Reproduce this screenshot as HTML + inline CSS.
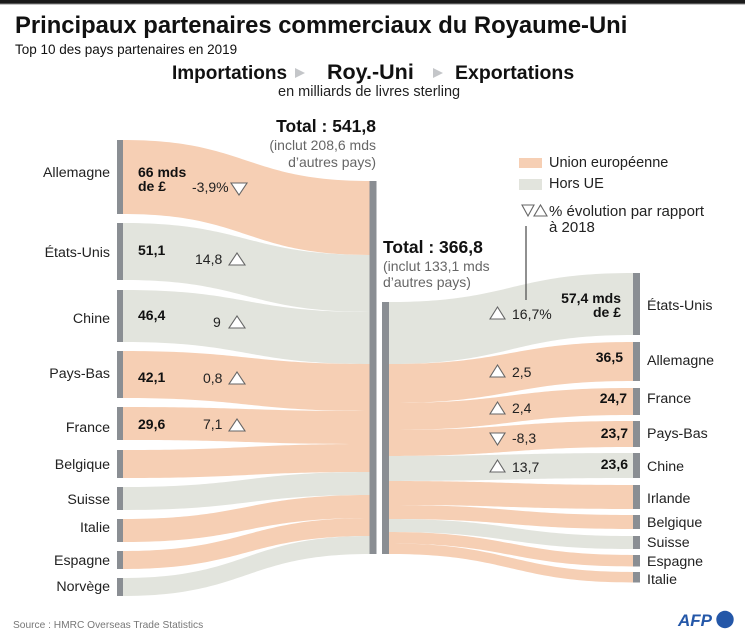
<!DOCTYPE html>
<html><head><meta charset="utf-8"><style>
html,body{margin:0;padding:0;background:#fff;}
svg{display:block;}
text{font-family:"Liberation Sans",sans-serif;}
</style></head><body>
<svg width="745" height="642" viewBox="0 0 745 642" xmlns="http://www.w3.org/2000/svg">
<rect x="0" y="0" width="745" height="642" fill="#fff"/>
<rect x="0" y="0" width="745" height="3.5" fill="#1a1a1a"/>
<rect x="0" y="3.5" width="745" height="1" fill="#888"/>

<!-- Titles -->
<text x="15" y="33" font-size="23.8" font-weight="bold" fill="#111">Principaux partenaires commerciaux du Royaume-Uni</text>
<text x="15" y="54" font-size="13.5" fill="#111">Top 10 des pays partenaires en 2019</text>
<text x="172" y="79" font-size="19" font-weight="bold" fill="#111">Importations</text>
<polygon points="295,68 295,78 305,73" fill="#c4c6c9"/>
<text x="327" y="79" font-size="21.5" font-weight="bold" fill="#111">Roy.-Uni</text>
<polygon points="433,68 433,78 443,73" fill="#c4c6c9"/>
<text x="455" y="79" font-size="19.5" font-weight="bold" fill="#111">Exportations</text>
<text x="278" y="96" font-size="14.5" fill="#222">en milliards de livres sterling</text>

<!-- Import flows -->
<g>
<path d="M123,140 C246.5,140 246.5,181 370,181 L370,255 C246.5,255 246.5,214 123,214 Z" fill="#f6cfb4"/>
<path d="M123,223 C246.5,223 246.5,255 370,255 L370,312 C246.5,312 246.5,280 123,280 Z" fill="#e2e4dd"/>
<path d="M123,290 C246.5,290 246.5,312 370,312 L370,364 C246.5,364 246.5,342 123,342 Z" fill="#e2e4dd"/>
<path d="M123,351 C246.5,351 246.5,364 370,364 L370,411 C246.5,411 246.5,398 123,398 Z" fill="#f6cfb4"/>
<path d="M123,407 C246.5,407 246.5,411 370,411 L370,444 C246.5,444 246.5,440 123,440 Z" fill="#f6cfb4"/>
<path d="M123,450 C246.5,450 246.5,444 370,444 L370,472 C246.5,472 246.5,478 123,478 Z" fill="#f6cfb4"/>
<path d="M123,487 C246.5,487 246.5,472 370,472 L370,495 C246.5,495 246.5,510 123,510 Z" fill="#e2e4dd"/>
<path d="M123,519 C246.5,519 246.5,495 370,495 L370,518 C246.5,518 246.5,542 123,542 Z" fill="#f6cfb4"/>
<path d="M123,551 C246.5,551 246.5,518 370,518 L370,536 C246.5,536 246.5,569 123,569 Z" fill="#f6cfb4"/>
<path d="M123,578 C246.5,578 246.5,536 370,536 L370,554 C246.5,554 246.5,596 123,596 Z" fill="#e2e4dd"/>
</g>

<!-- Export flows -->
<g>
<path d="M389,302 C511,302 511,273 633,273 L633,335 C511,335 511,364 389,364 Z" fill="#e2e4dd"/>
<path d="M389,364 C511,364 511,342 633,342 L633,381 C511,381 511,403 389,403 Z" fill="#f6cfb4"/>
<path d="M389,403 C511,403 511,388 633,388 L633,415 C511,415 511,430 389,430 Z" fill="#f6cfb4"/>
<path d="M389,430 C511,430 511,421 633,421 L633,447 C511,447 511,456 389,456 Z" fill="#f6cfb4"/>
<path d="M389,456 C511,456 511,453 633,453 L633,478 C511,478 511,481 389,481 Z" fill="#e2e4dd"/>
<path d="M389,481 C511,481 511,485 633,485 L633,509 C511,509 511,505 389,505 Z" fill="#f6cfb4"/>
<path d="M389,505 C511,505 511,515 633,515 L633,529 C511,529 511,519 389,519 Z" fill="#f6cfb4"/>
<path d="M389,519 C511,519 511,536 633,536 L633,549 C511,549 511,532 389,532 Z" fill="#e2e4dd"/>
<path d="M389,532 C511,532 511,555 633,555 L633,566.5 C511,566.5 511,543.5 389,543.5 Z" fill="#f6cfb4"/>
<path d="M389,543.5 C511,543.5 511,572 633,572 L633,582.5 C511,582.5 511,554 389,554 Z" fill="#f6cfb4"/>
</g>

<!-- Bars -->
<g fill="#8a8e93">
<rect x="117" y="140" width="6" height="74"/>
<rect x="117" y="223" width="6" height="57"/>
<rect x="117" y="290" width="6" height="52"/>
<rect x="117" y="351" width="6" height="47"/>
<rect x="117" y="407" width="6" height="33"/>
<rect x="117" y="450" width="6" height="28"/>
<rect x="117" y="487" width="6" height="23"/>
<rect x="117" y="519" width="6" height="23"/>
<rect x="117" y="551" width="6" height="18"/>
<rect x="117" y="578" width="6" height="18"/>
<rect x="369.5" y="181" width="7" height="373"/>
<rect x="382" y="302" width="7" height="252"/>
<rect x="633" y="273" width="7" height="62"/>
<rect x="633" y="342" width="7" height="39"/>
<rect x="633" y="388" width="7" height="27"/>
<rect x="633" y="421" width="7" height="26"/>
<rect x="633" y="453" width="7" height="25"/>
<rect x="633" y="485" width="7" height="24"/>
<rect x="633" y="515" width="7" height="14"/>
<rect x="633" y="536" width="7" height="13"/>
<rect x="633" y="555" width="7" height="11.5"/>
<rect x="633" y="572" width="7" height="10.5"/>
</g>

<!-- Left labels -->
<g font-size="14.2" fill="#222" text-anchor="end">
<text x="110" y="177">Allemagne</text>
<text x="110" y="257">États-Unis</text>
<text x="110" y="323">Chine</text>
<text x="110" y="378">Pays-Bas</text>
<text x="110" y="432">France</text>
<text x="110" y="469">Belgique</text>
<text x="110" y="504">Suisse</text>
<text x="110" y="532">Italie</text>
<text x="110" y="565">Espagne</text>
<text x="110" y="591">Norvège</text>
</g>

<!-- Left values -->
<g font-size="14" font-weight="bold" fill="#111">
<text x="138" y="177">66 mds</text>
<text x="138" y="191">de £</text>
<text x="138" y="255">51,1</text>
<text x="138" y="320">46,4</text>
<text x="138" y="382">42,1</text>
<text x="138" y="429">29,6</text>
</g>
<g font-size="14" fill="#222">
<text x="192" y="192">-3,9%</text>
<text x="195" y="264">14,8</text>
<text x="213" y="327">9</text>
<text x="203" y="383">0,8</text>
<text x="203" y="429">7,1</text>
</g>
<g fill="#fff" stroke="#666" stroke-width="1.1">
<polygon points="231,183 247,183 239,195"/>
<polygon points="229,265 245,265 237,253"/>
<polygon points="229,328 245,328 237,316"/>
<polygon points="229,384 245,384 237,372"/>
<polygon points="229,431 245,431 237,419"/>
<polygon points="490,319 505,319 497.5,307"/>
<polygon points="490,377 505,377 497.5,365"/>
<polygon points="490,414 505,414 497.5,402"/>
<polygon points="490,433 505,433 497.5,445"/>
<polygon points="490,472 505,472 497.5,460"/>
<polygon points="522,205 534,205 528,216"/>
<polygon points="534,216 547,216 540.5,205"/>
</g>

<!-- Totals -->
<text x="376" y="132" font-size="17.5" font-weight="bold" fill="#111" text-anchor="end">Total : 541,8</text>
<text x="376" y="150" font-size="14" fill="#666" text-anchor="end">(inclut 208,6 mds</text>
<text x="376" y="167" font-size="14" fill="#666" text-anchor="end">d’autres pays)</text>
<text x="383" y="253" font-size="17.5" font-weight="bold" fill="#111">Total : 366,8</text>
<text x="383" y="271" font-size="14" fill="#666">(inclut 133,1 mds</text>
<text x="383" y="287" font-size="14" fill="#666">d’autres pays)</text>

<!-- Legend -->
<rect x="519" y="158" width="23" height="10" fill="#f6cfb4"/>
<rect x="519" y="179" width="23" height="11" fill="#e2e4dd"/>
<g font-size="14.5" fill="#222">
<text x="549" y="167">Union européenne</text>
<text x="549" y="188">Hors UE</text>
<text x="549" y="216" font-size="15">% évolution par rapport</text>
<text x="549" y="232" font-size="15">à 2018</text>
</g>
<line x1="526" y1="226" x2="526" y2="300" stroke="#555" stroke-width="1.3"/>

<!-- Right values -->
<g font-size="14" font-weight="bold" fill="#111" text-anchor="end">
<text x="621" y="303">57,4 mds</text>
<text x="621" y="317">de £</text>
<text x="623" y="362">36,5</text>
<text x="627" y="403">24,7</text>
<text x="628" y="438">23,7</text>
<text x="628" y="469">23,6</text>
</g>
<g font-size="14" fill="#222">
<text x="512" y="319">16,7%</text>
<text x="512" y="377">2,5</text>
<text x="512" y="413">2,4</text>
<text x="512" y="443">-8,3</text>
<text x="512" y="472">13,7</text>
</g>

<!-- Right labels -->
<g font-size="14.2" fill="#222">
<text x="647" y="310">États-Unis</text>
<text x="647" y="365">Allemagne</text>
<text x="647" y="403">France</text>
<text x="647" y="438">Pays-Bas</text>
<text x="647" y="471">Chine</text>
<text x="647" y="503">Irlande</text>
<text x="647" y="527">Belgique</text>
<text x="647" y="547">Suisse</text>
<text x="647" y="566">Espagne</text>
<text x="647" y="584">Italie</text>
</g>

<!-- Footer -->
<text x="13" y="628" font-size="10.2" fill="#777">Source : HMRC Overseas Trade Statistics</text>
<text x="678" y="626" font-size="17" font-weight="bold" font-style="italic" fill="#2457a8">AFP</text>
<circle cx="725" cy="619.5" r="8.7" fill="#2457a8"/>
</svg>
</body></html>
